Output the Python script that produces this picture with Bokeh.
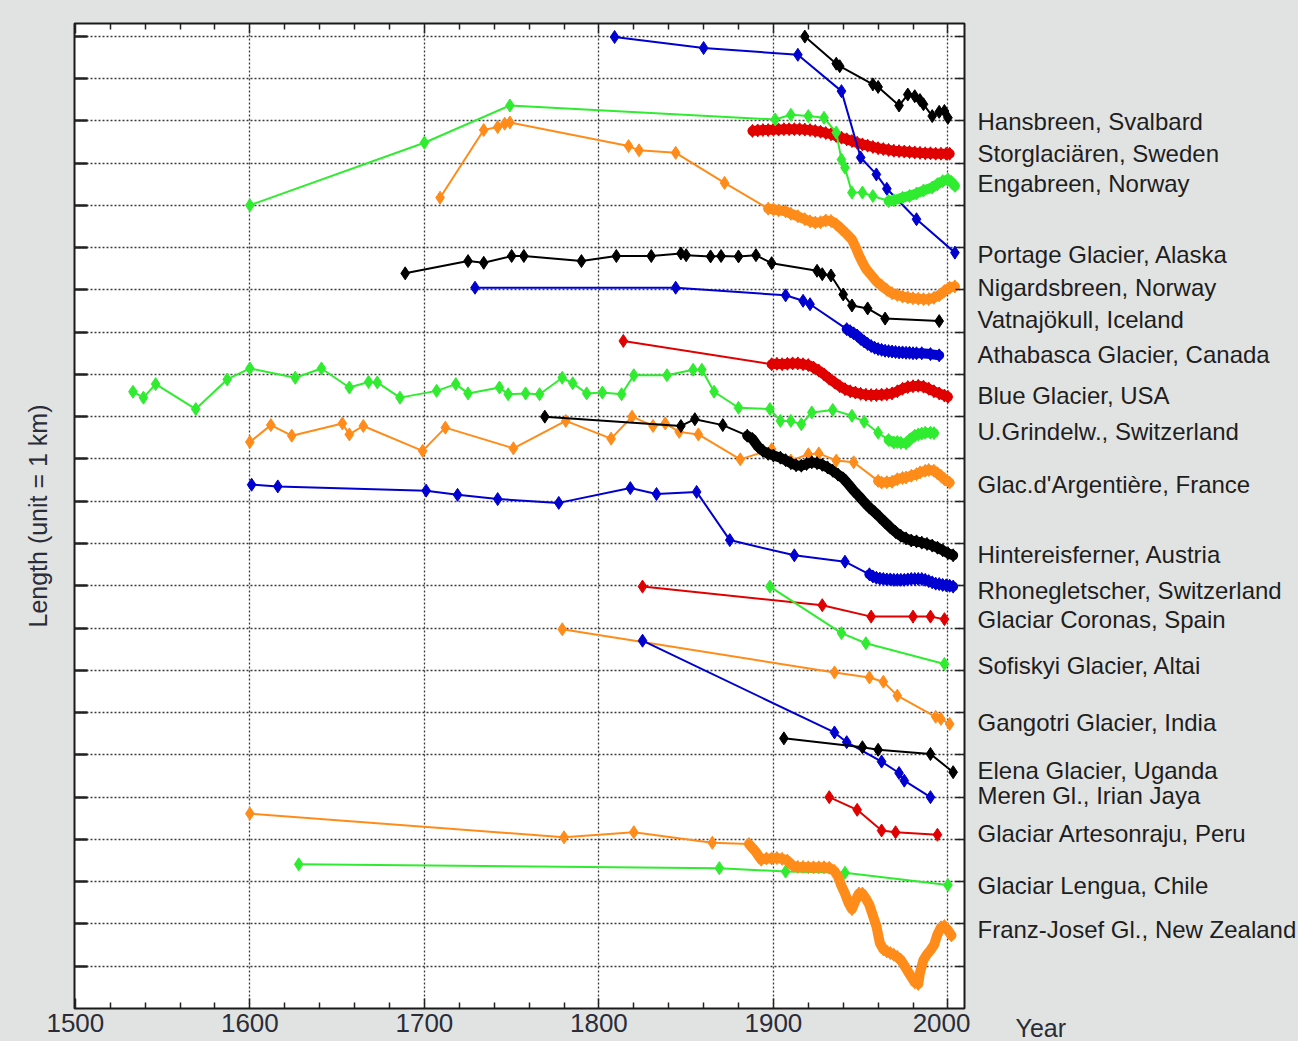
from bokeh.plotting import figure
from bokeh.models import Range1d, FixedTicker, LinearAxis
from bokeh.layouts import row
from bokeh.embed import file_html
from bokeh.resources import INLINE
from bokeh.core.properties import value

# ---------------- data (year, length in km, offset per glacier) ----------------
hansbreen_year = [1918, 1936, 1938, 1957, 1960, 1972, 1977, 1981, 1984, 1986, 1991, 1995, 1998, 2000]
hansbreen_len = [22.99, 22.35, 22.29, 21.86, 21.80, 21.36, 21.62, 21.58, 21.49, 21.39, 21.11, 21.21, 21.23, 21.07]

storglaciaren_year = [1888, 1891, 1894, 1897, 1900, 1903, 1906, 1909, 1912, 1915, 1918, 1921, 1924, 1927,
                      1930, 1933, 1936, 1939, 1942, 1945, 1948, 1951, 1954, 1957, 1960, 1963, 1966, 1969,
                      1972, 1975, 1978, 1981, 1984, 1987, 1990, 1993, 1996, 1999, 2001]
storglaciaren_len = [20.76, 20.77, 20.78, 20.78, 20.79, 20.79, 20.80, 20.80, 20.80, 20.80, 20.79, 20.78, 20.76, 20.74,
                     20.71, 20.68, 20.64, 20.60, 20.56, 20.52, 20.48, 20.44, 20.41, 20.38, 20.35, 20.33, 20.31, 20.29,
                     20.28, 20.27, 20.26, 20.25, 20.24, 20.23, 20.23, 20.22, 20.22, 20.22, 20.22]

engabreen_year = [1600, 1700, 1749, 1901, 1910, 1920, 1929, 1936, 1939, 1941, 1945, 1951, 1957, 1966, 1969,
                  1974, 1978, 1982, 1986, 1991, 1994, 1997, 2000, 2002, 2004]
engabreen_len = [19.00, 20.48, 21.36, 21.03, 21.14, 21.11, 21.07, 20.72, 20.08, 19.89, 19.30, 19.30, 19.22, 19.10, 19.12,
                 19.18, 19.22, 19.28, 19.35, 19.42, 19.50, 19.57, 19.61, 19.55, 19.46]

portage_year = [1809, 1860, 1914, 1939, 1950, 1959, 1965, 1982, 2004]
portage_len = [22.98, 22.72, 22.56, 21.70, 20.13, 19.73, 19.39, 18.67, 17.88]

nigardsbreen_year = [1709, 1734, 1742, 1746, 1749, 1817, 1823, 1844, 1872, 1897, 1900, 1903, 1907, 1910, 1914,
                     1918, 1921, 1924, 1927, 1930, 1933, 1936, 1939, 1942, 1945, 1947, 1949, 1951, 1953, 1955,
                     1957, 1959, 1962, 1965, 1968, 1971, 1974, 1977, 1980, 1983, 1986, 1989, 1992, 1995, 1998,
                     2001, 2004]
nigardsbreen_len = [19.18, 20.78, 20.85, 20.93, 20.96, 20.40, 20.30, 20.24, 19.53, 18.92, 18.90, 18.88, 18.86, 18.80,
                    18.74, 18.67, 18.62, 18.59, 18.60, 18.64, 18.63, 18.55, 18.44, 18.32, 18.19, 18.02, 17.82, 17.65,
                    17.50, 17.40, 17.30, 17.20, 17.10, 17.00, 16.92, 16.88, 16.84, 16.82, 16.80, 16.79, 16.78, 16.78,
                    16.81, 16.87, 16.97, 17.05, 17.08]

vatnajokull_year = [1689, 1725, 1734, 1750, 1757, 1790, 1810, 1830, 1847, 1850, 1864, 1870, 1880, 1890, 1899,
                    1925, 1928, 1933, 1940, 1945, 1954, 1964, 1995]
vatnajokull_len = [17.39, 17.68, 17.64, 17.80, 17.80, 17.68, 17.80, 17.80, 17.86, 17.82, 17.79, 17.80, 17.79, 17.82,
                   17.63, 17.45, 17.37, 17.34, 16.89, 16.63, 16.56, 16.32, 16.26]

athabasca_year = [1729, 1844, 1907, 1917, 1921, 1942, 1944, 1946, 1948, 1950, 1952, 1954, 1956, 1958, 1960, 1962,
                  1964, 1966, 1968, 1970, 1972, 1974, 1976, 1978, 1980, 1982, 1985, 1990, 1995]
athabasca_len = [17.05, 17.05, 16.87, 16.74, 16.66, 16.07, 16.02, 15.97, 15.92, 15.84, 15.78, 15.72, 15.67, 15.63,
                 15.60, 15.58, 15.56, 15.55, 15.54, 15.53, 15.52, 15.52, 15.51, 15.51, 15.50, 15.50, 15.50, 15.48, 15.45]

blue_year = [1814, 1899, 1902, 1905, 1908, 1911, 1914, 1917, 1920, 1923, 1926, 1929, 1932, 1935, 1938, 1941, 1944,
             1947, 1950, 1953, 1956, 1959, 1962, 1965, 1968, 1971, 1974, 1977, 1980, 1983, 1986, 1989, 1992, 1995,
             1998, 2000]
blue_len = [15.79, 15.24, 15.25, 15.24, 15.25, 15.26, 15.26, 15.24, 15.22, 15.16, 15.09, 15.00, 14.90, 14.81, 14.72,
            14.65, 14.60, 14.57, 14.54, 14.52, 14.51, 14.51, 14.52, 14.53, 14.55, 14.60, 14.66, 14.70, 14.72, 14.73,
            14.71, 14.66, 14.60, 14.55, 14.50, 14.47]

grindelwald_year = [1533, 1539, 1546, 1569, 1587, 1600, 1626, 1641, 1657, 1668, 1673, 1686, 1707, 1718, 1725, 1743,
                    1748, 1758, 1766, 1779, 1785, 1793, 1802, 1813, 1820, 1839, 1854, 1859, 1866, 1880, 1898, 1904,
                    1910, 1916, 1922, 1934, 1945, 1952, 1960, 1966, 1969, 1971, 1973, 1976, 1978, 1981, 1983, 1985,
                    1987, 1990, 1992]
grindelwald_len = [14.59, 14.45, 14.77, 14.18, 14.88, 15.14, 14.92, 15.14, 14.69, 14.82, 14.81, 14.45, 14.61, 14.77,
                   14.55, 14.69, 14.53, 14.55, 14.53, 14.92, 14.79, 14.55, 14.57, 14.53, 14.98, 14.98, 15.11, 15.11,
                   14.59, 14.21, 14.18, 13.90, 13.90, 13.82, 14.10, 14.16, 14.02, 13.88, 13.62, 13.45, 13.39, 13.40,
                   13.38, 13.37, 13.45, 13.55, 13.58, 13.60, 13.62, 13.62, 13.61]

argentiere_year = [1600, 1612, 1624, 1653, 1657, 1665, 1699, 1712, 1751, 1781, 1807, 1819, 1831, 1838, 1846, 1857,
                   1881, 1899, 1910, 1920, 1926, 1936, 1946, 1960, 1962, 1965, 1968, 1971, 1974, 1976, 1979, 1982,
                   1984, 1987, 1989, 1992, 1994, 1996, 1998, 2001]
argentiere_len = [13.40, 13.80, 13.55, 13.84, 13.58, 13.78, 13.19, 13.74, 13.25, 13.90, 13.48, 14.00, 13.78, 13.84,
                  13.64, 13.58, 12.99, 13.23, 12.96, 13.11, 13.13, 12.96, 12.92, 12.48, 12.44, 12.45, 12.46, 12.52,
                  12.55, 12.56, 12.60, 12.64, 12.68, 12.72, 12.74, 12.72, 12.66, 12.60, 12.52, 12.44]

hintereis_year = [1769, 1847, 1855, 1871, 1885, 1888, 1891, 1894, 1897, 1900, 1904, 1907, 1910, 1913, 1916, 1919,
                  1922, 1925, 1928, 1931, 1934, 1937, 1940, 1943, 1946, 1949, 1952, 1955, 1958, 1961, 1964, 1967,
                  1970, 1973, 1976, 1979, 1982, 1985, 1988, 1991, 1994, 1997, 2000, 2003]
hintereis_len = [14.00, 13.78, 13.94, 13.80, 13.55, 13.47, 13.30, 13.19, 13.12, 13.08, 13.03, 12.97, 12.90, 12.85,
                 12.84, 12.88, 12.92, 12.90, 12.86, 12.80, 12.72, 12.63, 12.54, 12.40, 12.25, 12.12, 11.98, 11.85,
                 11.74, 11.62, 11.50, 11.38, 11.27, 11.18, 11.12, 11.07, 11.05, 11.02, 10.99, 10.95, 10.90, 10.84,
                 10.77, 10.72]

rhone_year = [1601, 1616, 1701, 1719, 1742, 1777, 1818, 1833, 1856, 1875, 1912, 1941, 1955, 1957, 1959, 1961,
              1963, 1965, 1967, 1969, 1971, 1973, 1975, 1977, 1979, 1981, 1983, 1985, 1987, 1989, 1991, 1993,
              1995, 1997, 1999, 2001, 2003]
rhone_len = [12.39, 12.35, 12.25, 12.15, 12.05, 11.96, 12.31, 12.17, 12.22, 11.08, 10.72, 10.57, 10.27, 10.22,
             10.19, 10.17, 10.16, 10.15, 10.15, 10.14, 10.14, 10.14, 10.14, 10.15, 10.16, 10.16, 10.16, 10.16,
             10.14, 10.11, 10.08, 10.05, 10.04, 10.02, 10.01, 10.00, 9.98]

coronas_year = [1825, 1928, 1956, 1980, 1990, 1998]
coronas_len = [9.98, 9.54, 9.27, 9.27, 9.27, 9.21]

sofiskyi_year = [1898, 1939, 1953, 1998]
sofiskyi_len = [9.98, 8.88, 8.64, 8.15]

gangotri_year = [1779, 1935, 1955, 1963, 1971, 1993, 1996, 2001]
gangotri_len = [8.97, 7.95, 7.83, 7.73, 7.40, 6.90, 6.85, 6.73]

elena_year = [1906, 1951, 1960, 1990, 2003]
elena_len = [6.39, 6.18, 6.12, 6.02, 5.59]

meren_year = [1825, 1935, 1942, 1962, 1972, 1975, 1990]
meren_len = [8.70, 6.53, 6.30, 5.84, 5.57, 5.39, 5.00]

artesonraju_year = [1932, 1948, 1962, 1970, 1994]
artesonraju_len = [5.00, 4.70, 4.21, 4.17, 4.11]

lengua_year = [1628, 1869, 1907, 1941, 2000]
lengua_len = [3.41, 3.32, 3.24, 3.21, 2.92]

franzjosef_year = [1600, 1780, 1820, 1865, 1886, 1890, 1893, 1896, 1899, 1902, 1905, 1908, 1911, 1914, 1917,
                   1920, 1923, 1926, 1929, 1932, 1935, 1937, 1939, 1941, 1943, 1945, 1947, 1949, 1951, 1953,
                   1955, 1957, 1959, 1961, 1963, 1965, 1967, 1969, 1971, 1973, 1975, 1977, 1979, 1981, 1983,
                   1984, 1986, 1988, 1990, 1992, 1994, 1996, 1998, 2000, 2002]
franzjosef_len = [4.61, 4.05, 4.17, 3.92, 3.89, 3.70, 3.52, 3.55, 3.55, 3.56, 3.54, 3.50, 3.38, 3.35, 3.35,
                  3.34, 3.34, 3.34, 3.34, 3.33, 3.25, 3.12, 2.90, 2.72, 2.50, 2.35, 2.55, 2.72, 2.72, 2.60,
                  2.45, 2.20, 1.95, 1.55, 1.40, 1.35, 1.31, 1.27, 1.22, 1.15, 1.02, 0.88, 0.75, 0.62, 0.58,
                  0.85, 1.15, 1.28, 1.38, 1.50, 1.75, 1.92, 1.95, 1.85, 1.73]

glacier_names = ["Hansbreen, Svalbard", "Storglaciären, Sweden", "Engabreen, Norway",
                 "Portage Glacier, Alaska", "Nigardsbreen, Norway", "Vatnajökull, Iceland",
                 "Athabasca Glacier, Canada", "Blue Glacier, USA", "U.Grindelw., Switzerland",
                 "Glac.d'Argentière, France", "Hintereisferner, Austria", "Rhonegletscher, Switzerland",
                 "Glaciar Coronas, Spain", "Sofiskyi Glacier, Altai", "Gangotri Glacier, India",
                 "Elena Glacier,  Uganda", "Meren Gl.,  Irian Jaya", "Glaciar Artesonraju, Peru",
                 "Glaciar Lengua, Chile", "Franz-Josef Gl., New Zealand"]
label_y = [20.98, 20.22, 19.51, 17.84, 17.05, 16.30, 15.46, 14.49, 13.66, 12.40, 10.75, 9.88, 9.21,
           8.11, 6.77, 5.63, 5.05, 4.13, 2.92, 1.88]

x_major = [1500, 1600, 1700, 1800, 1900, 2000]
x_minor = [1520, 1540, 1560, 1580, 1620, 1640, 1660, 1680, 1720, 1740, 1760, 1780,
           1820, 1840, 1860, 1880, 1920, 1940, 1960, 1980]
y_ticks = list(range(1, 24))
x_title = "Year"
y_title = "Length (unit = 1 km)"

# ---------------- styling ----------------
BLACK = "#000000"
RED = "#e00000"
GREEN = "#30ec30"
BLUE = "#0000d0"
ORANGE = "#ff8c1a"
BG = "#e1e3e3"
TXT = "#2a2c38"

# (years, lengths, colour, index where the dense band starts or None)
series = [
    (storglaciaren_year, storglaciaren_len, RED, 0),
    (hansbreen_year, hansbreen_len, BLACK, None),
    (portage_year, portage_len, BLUE, None),
    (engabreen_year, engabreen_len, GREEN, 13),
    (nigardsbreen_year, nigardsbreen_len, ORANGE, 9),
    (vatnajokull_year, vatnajokull_len, BLACK, None),
    (athabasca_year, athabasca_len, BLUE, 5),
    (blue_year, blue_len, RED, 1),
    (grindelwald_year, grindelwald_len, GREEN, 39),
    (argentiere_year, argentiere_len, ORANGE, 23),
    (hintereis_year, hintereis_len, BLACK, 4),
    (rhone_year, rhone_len, BLUE, 12),
    (coronas_year, coronas_len, RED, None),
    (sofiskyi_year, sofiskyi_len, GREEN, None),
    (gangotri_year, gangotri_len, ORANGE, None),
    (meren_year, meren_len, BLUE, None),
    (elena_year, elena_len, BLACK, None),
    (artesonraju_year, artesonraju_len, RED, None),
    (lengua_year, lengua_len, GREEN, None),
    (franzjosef_year, franzjosef_len, ORANGE, 4),
]

Y_MAX = 23.3
FRAME_TOP, FRAME_H, TOTAL_H = 23, 985, 1041

p = figure(width=970, height=TOTAL_H,
           x_range=Range1d(1499.5, 2009.5), y_range=Range1d(0, Y_MAX),
           output_backend="svg", toolbar_location=None,
           min_border_left=74, min_border_right=6, min_border_top=FRAME_TOP,
           min_border_bottom=TOTAL_H - FRAME_TOP - FRAME_H)

p.background_fill_color = "white"
p.border_fill_color = BG
p.outline_line_color = "#1a1a1a"
p.outline_line_width = 2

xt = FixedTicker(ticks=x_major, minor_ticks=x_minor)
yt = FixedTicker(ticks=y_ticks)

# bottom axis
xa = p.xaxis[0]
xa.ticker = xt
xa.axis_line_color = None
xa.major_tick_in = 10
xa.major_tick_out = 0
xa.minor_tick_in = 6
xa.minor_tick_out = 0
xa.major_tick_line_width = 1.5
xa.minor_tick_line_width = 1.5
xa.major_tick_line_color = "#222222"
xa.minor_tick_line_color = "#222222"
xa.major_label_text_font = "Liberation Sans"
xa.major_label_text_font_size = "26px"
xa.major_label_text_color = TXT
xa.major_label_standoff = 5

# left axis (ticks inward, title only)
ya = p.yaxis[0]
ya.ticker = yt
ya.axis_line_color = None
ya.major_tick_in = 13
ya.major_tick_out = 0
ya.major_tick_line_width = 2.5
ya.major_tick_line_color = "#222222"
ya.minor_tick_line_color = None
ya.major_label_text_font_size = "1px"
ya.major_label_text_color = None
ya.major_label_standoff = 0
ya.axis_label = y_title
ya.axis_label_text_font = "Liberation Sans"
ya.axis_label_text_font_size = "25px"
ya.axis_label_text_font_style = "normal"
ya.axis_label_text_color = TXT
ya.axis_label_standoff = 23

# top axis
top = LinearAxis(ticker=xt, axis_line_color=None, major_tick_in=10, major_tick_out=0,
                 minor_tick_in=6, minor_tick_out=0, major_tick_line_width=1.5, minor_tick_line_width=1.5,
                 major_tick_line_color="#222222", minor_tick_line_color="#222222",
                 major_label_text_font_size="1px", major_label_text_color=None, major_label_standoff=0)
p.add_layout(top, "above")

# right axis
right = LinearAxis(ticker=yt, axis_line_color=None, major_tick_in=9, major_tick_out=0,
                   major_tick_line_width=1.5, major_tick_line_color="#222222", minor_tick_line_color=None,
                   major_label_text_font_size="1px", major_label_text_color=None, major_label_standoff=0)
p.add_layout(right, "right")

p.xgrid.ticker = FixedTicker(ticks=[1600, 1700, 1800, 1900, 2000])
p.ygrid.ticker = yt
for g in (p.xgrid[0], p.ygrid[0]):
    g.grid_line_color = "#3a3a3a"
    g.grid_line_dash = "2 2"
    g.grid_line_width = 1.3

for yrs, lens, col, dense in series:
    p.line(yrs, lens, line_color=col, line_width=2)
    if dense is not None:
        p.line(yrs[dense:], lens[dense:], line_color=col, line_width=10, line_join="round", line_cap="round")
    p.scatter(yrs, lens, marker="diamond", size=13, fill_color=col, line_color=col)

# ---------------- right-hand panel with glacier names ----------------
px_per_unit = FRAME_H / Y_MAX
panel_w = 1298 - 970
q = figure(width=panel_w, height=TOTAL_H,
           x_range=Range1d(0, panel_w),
           y_range=Range1d(-(TOTAL_H - FRAME_TOP - FRAME_H) / px_per_unit, Y_MAX + FRAME_TOP / px_per_unit),
           output_backend="svg", toolbar_location=None, x_axis_type=None, y_axis_type=None,
           min_border=0, min_border_left=0, min_border_right=0, min_border_top=0, min_border_bottom=0)
q.frame_align = False
q.background_fill_color = BG
q.border_fill_color = BG
q.outline_line_color = None
q.grid.visible = False

q.text(x=[7] * len(glacier_names), y=label_y, text=glacier_names,
       text_font=value("Liberation Sans"), text_font_size=value("24px"),
       text_color="#1e1e1e", text_baseline="middle", text_align="left")
q.text(x=[45], y=[-0.45], text=[x_title],
       text_font=value("Liberation Sans"), text_font_size=value("25px"),
       text_color=TXT, text_baseline="middle", text_align="left")

layout = row(p, q, spacing=0, styles={"background-color": BG})
open("out.html", "w").write(file_html(layout, INLINE))
